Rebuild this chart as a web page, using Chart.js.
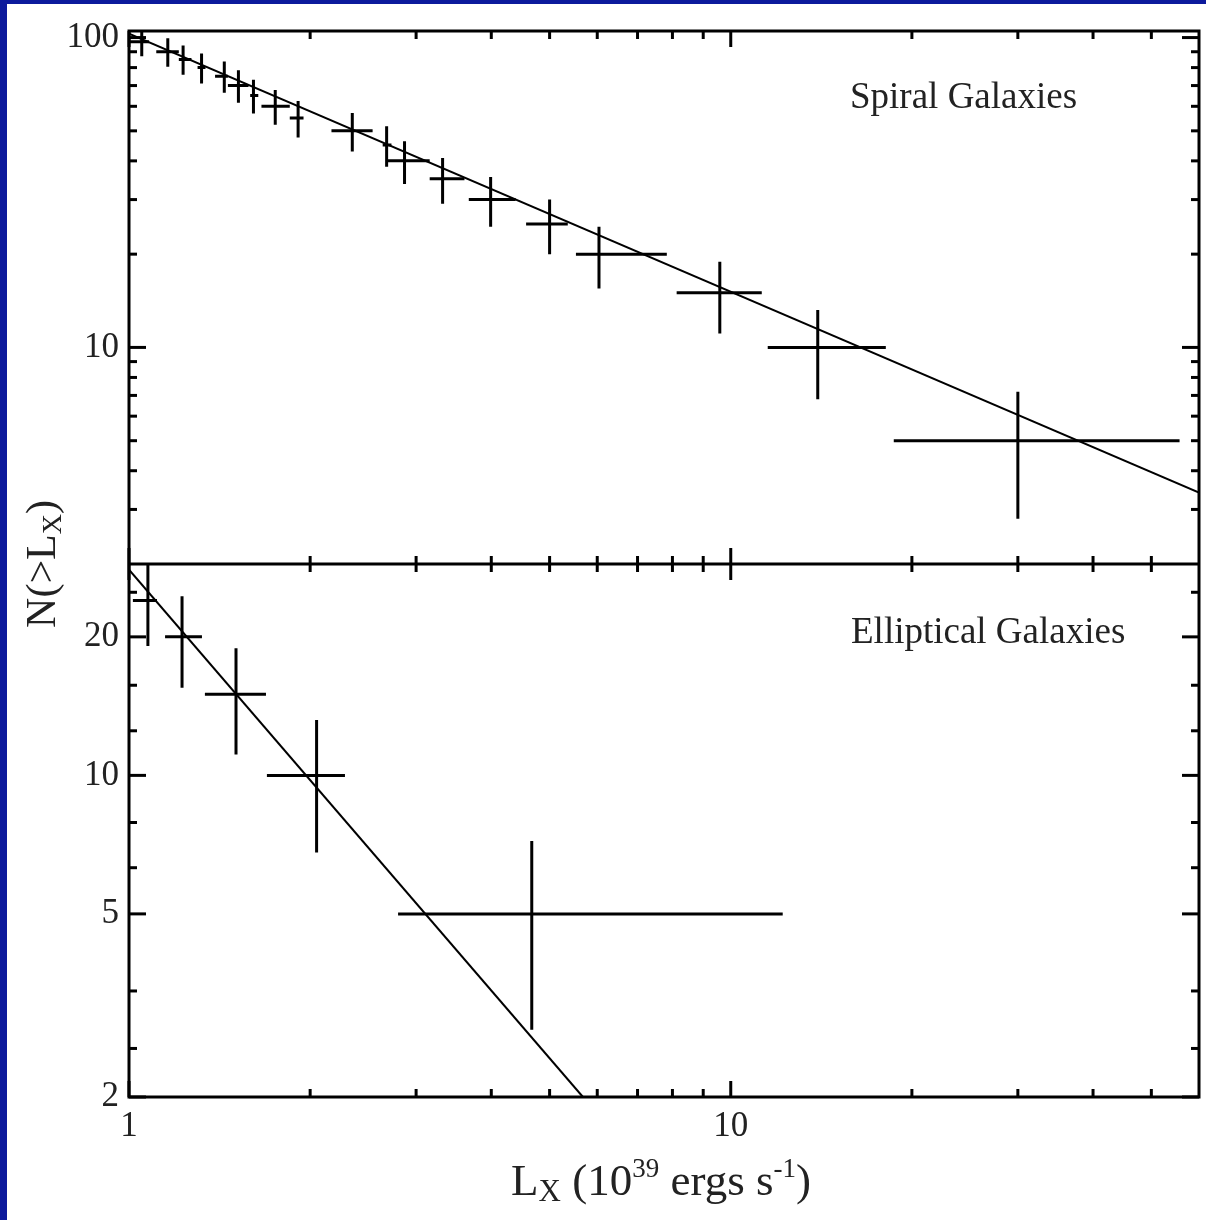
<!DOCTYPE html>
<html>
<head>
<meta charset="utf-8">
<title>N(&gt;Lx) - Spiral and Elliptical Galaxies</title>
<script src="https://cdn.jsdelivr.net/npm/chart.js@4.4.1/dist/chart.umd.min.js"></script>
<style>
  body { margin: 0; background: #0c1a9c; }
  #page { position: relative; width: 1206px; height: 1220px; background: #0c1a9c; overflow: hidden; }
  #sheet { position: absolute; left: 7px; top: 4px; right: 0; bottom: 0; background: #fff; }
  #chart { position: absolute; left: 0; top: 0; }
</style>
</head>
<body>
<div id="page">
  <div id="sheet"></div>
  <canvas id="chart" width="1206" height="1220"></canvas>
</div>
<script>
//--- Spiral galaxies (top panel): cumulative counts with error bars
var spiralL   = [1.05, 1.16, 1.23, 1.32, 1.44, 1.52, 1.61, 1.75, 1.91, 2.35, 2.68, 2.87, 3.32, 3.99, 5.0, 6.04, 9.59, 13.95, 30.0];
var spiralLlo = [1.00, 1.11, 1.21, 1.30, 1.39, 1.46, 1.59, 1.66, 1.85, 2.17, 2.64, 2.68, 3.16, 3.67, 4.57, 5.53, 8.13, 11.52, 18.66];
var spiralLhi = [1.08, 1.21, 1.27, 1.34, 1.46, 1.58, 1.64, 1.85, 1.95, 2.54, 2.73, 3.16, 3.61, 4.39, 5.36, 7.83, 11.26, 18.1, 55.7];
var spiralN   = [97, 90, 85, 80, 75, 70, 65, 60, 55, 50, 45, 40, 35, 30, 25, 20, 15, 10, 5];
var spiralNlo = [87, 80.5, 75.8, 71.1, 66.3, 61.6, 56.9, 52.3, 47.6, 42.9, 38.3, 33.7, 29.1, 24.5, 20, 15.5, 11.1, 6.8, 2.8];
var spiralNhi = [107, 99.5, 94.2, 88.9, 83.7, 78.4, 73.1, 67.7, 62.4, 57.1, 51.7, 46.3, 40.9, 35.5, 30, 24.5, 18.9, 13.2, 7.2];
var spiralFitL = [1, 60];
var spiralFitN = [103, 3.4];

//--- Elliptical galaxies (bottom panel)
var ellipL   = [1.075, 1.225, 1.506, 2.05, 4.67];
var ellipLlo = [1.015, 1.148, 1.337, 1.695, 2.80];
var ellipLhi = [1.113, 1.322, 1.689, 2.285, 12.2];
var ellipN   = [24, 20, 15, 10, 5];
var ellipNlo = [19.1, 15.5, 11.1, 6.8, 2.8];
var ellipNhi = [28.8, 24.5, 18.9, 13.2, 7.2];
var ellipFitL = [1, 5.68];
var ellipFitN = [28, 2];

//--- axis ticks
var xTicks    = [1, 2, 3, 4, 5, 6, 7, 8, 9, 10, 20, 30, 40, 50];
var xLabels   = [1, 10];
var topTicks  = [3, 4, 5, 6, 7, 8, 9, 10, 20, 30, 40, 50, 60, 70, 80, 90, 100];
var topLabels = [10, 100];
var botTicks  = [2, 2.55, 3.4, 5, 6.3, 7.9, 10, 12.5, 15.7, 20, 25];
var botLabels = [2, 5, 10, 20];

var SERIF = '"Liberation Serif", "Times New Roman", serif';
var INK = '#222';

// horizontal / vertical error bars as broken line segments
function hBars(x, lo, hi, y) {
    var pts = [];
    for (var i = 0; i < y.length; i++) {
        pts.push({ x: lo[i], y: y[i] }, { x: hi[i], y: y[i] }, { x: x[i], y: null });
    }
    return pts;
}
function vBars(x, y, lo, hi) {
    var pts = [];
    for (var i = 0; i < x.length; i++) {
        pts.push({ x: x[i], y: lo[i] }, { x: x[i], y: hi[i] }, { x: x[i], y: null });
    }
    return pts;
}
function fitLine(xs, ys) {
    return xs.map(function (v, i) { return { x: v, y: ys[i] }; });
}
function segs(data, axis, width) {
    return {
        data: data, yAxisID: axis, borderColor: '#000', borderWidth: width,
        pointRadius: 0, spanGaps: false, tension: 0, fill: false
    };
}

// frame + inward ticks on every side, and the panel divider
var framePlugin = {
    id: 'frame',
    afterDatasetsDraw: function (chart) {
        var ctx = chart.ctx, a = chart.chartArea;
        var sx = chart.scales.x, yt = chart.scales.yTop, yb = chart.scales.yBot;
        var mid = yt.bottom;
        function line(x1, y1, x2, y2) {
            ctx.beginPath(); ctx.moveTo(x1, y1); ctx.lineTo(x2, y2); ctx.stroke();
        }
        ctx.save();
        ctx.strokeStyle = '#000';
        ctx.lineWidth = 3;
        [[yt, topLabels], [yb, botLabels]].forEach(function (p) {
            p[0].ticks.forEach(function (t) {
                var py = p[0].getPixelForValue(t.value);
                var len = p[1].indexOf(t.value) >= 0 ? 17 : 8;
                line(a.left, py, a.left + len, py);
                line(a.right, py, a.right - len, py);
            });
        });
        sx.ticks.forEach(function (t) {
            var px = sx.getPixelForValue(t.value);
            var len = xLabels.indexOf(t.value) >= 0 ? 16 : 8;
            line(px, a.bottom, px, a.bottom - len);
            line(px, a.top, px, a.top + len);
            line(px, mid - len, px, mid + len);
        });
        ctx.lineWidth = 3;
        ctx.strokeRect(a.left, a.top, a.right - a.left, a.bottom - a.top);
        line(a.left, mid, a.right, mid);
        ctx.restore();
    }
};

// text with sub/superscripts, drawn piece by piece
function drawParts(ctx, parts, cx, baseY) {
    var w = 0;
    parts.forEach(function (p) {
        ctx.font = p[1] + 'px ' + SERIF;
        w += ctx.measureText(p[0]).width;
    });
    var x = cx - w / 2;
    parts.forEach(function (p) {
        ctx.font = p[1] + 'px ' + SERIF;
        ctx.fillText(p[0], x, baseY + p[2]);
        x += ctx.measureText(p[0]).width;
    });
}

var textPlugin = {
    id: 'texts',
    afterDraw: function (chart) {
        var ctx = chart.ctx, a = chart.chartArea;
        var yt = chart.scales.yTop;
        ctx.save();
        ctx.fillStyle = INK;
        ctx.textBaseline = 'alphabetic';
        ctx.textAlign = 'left';
        ctx.font = '37px ' + SERIF;
        ctx.fillText('Spiral Galaxies', 850, a.top + 77);
        ctx.fillText('Elliptical Galaxies', 851, yt.bottom + 79);

        // x axis title
        drawParts(ctx, [['L', 45, 0], ['X', 31, 6], [' (10', 45, 0], ['39', 27, -18],
                        [' ergs s', 45, 0], ['-1', 27, -18], [')', 45, 0]], 661, 1195);

        // y axis title, rotated
        ctx.translate(55, (a.top + a.bottom) / 2);
        ctx.rotate(-Math.PI / 2);
        drawParts(ctx, [['N(>L', 42, 0], ['X', 28, 6], [')', 42, 0]], 0, 0);
        ctx.restore();
    }
};

var tickFont = { family: SERIF, size: 35 };

function logAxis(min, max, ticks, labels, extra) {
    var s = {
        type: 'logarithmic', min: min, max: max,
        grid: { display: false, drawTicks: false },
        border: { display: false },
        afterBuildTicks: function (scale) {
            scale.ticks = ticks.map(function (v) { return { value: v }; });
        },
        ticks: {
            autoSkip: false, maxRotation: 0, color: INK, font: tickFont,
            callback: function (v) { return labels.indexOf(v) >= 0 ? String(v) : ''; }
        }
    };
    for (var k in extra) s[k] = extra[k];
    return s;
}

var yTop = logAxis(2, 105, topTicks, topLabels, {
    position: 'left', stack: 'panels', stackWeight: 1,
    afterFit: function (s) { s.width = 129; }
});
yTop.ticks.padding = 10;
var yBot = logAxis(2, 28.8, botTicks, botLabels, {
    position: 'left', stack: 'panels', stackWeight: 1,
    afterFit: function (s) { s.width = 129; }
});
yBot.ticks.padding = 10;
var xAxis = logAxis(1, 60, xTicks, xLabels, {
    position: 'bottom',
    afterFit: function (s) { s.height = 123; }
});
xAxis.ticks.padding = 9;

new Chart(document.getElementById('chart'), {
    type: 'line',
    data: {
        datasets: [
            segs(hBars(spiralL, spiralLlo, spiralLhi, spiralN), 'yTop', 3),
            segs(vBars(spiralL, spiralN, spiralNlo, spiralNhi), 'yTop', 3),
            segs(fitLine(spiralFitL, spiralFitN), 'yTop', 2),
            segs(hBars(ellipL, ellipLlo, ellipLhi, ellipN), 'yBot', 3),
            segs(vBars(ellipL, ellipN, ellipNlo, ellipNhi), 'yBot', 3),
            segs(fitLine(ellipFitL, ellipFitN), 'yBot', 2)
        ]
    },
    options: {
        responsive: false,
        animation: false,
        events: [],
        layout: { padding: { top: 27, right: 7, left: 0, bottom: 0 } },
        plugins: { legend: { display: false }, tooltip: { enabled: false } },
        // left axes in one stack are laid out last-first, so yBot goes before yTop
        scales: { x: xAxis, yBot: yBot, yTop: yTop }
    },
    plugins: [framePlugin, textPlugin]
});
</script>
</body>
</html>
